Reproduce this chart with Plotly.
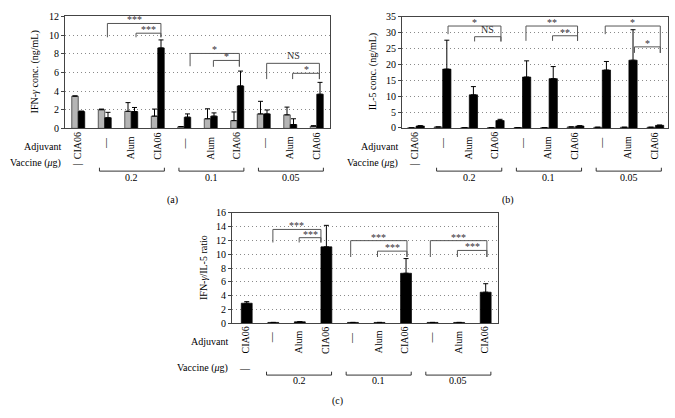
import plotly.graph_objects as go

W, H = 675, 418
FONT = "Liberation Serif, Times New Roman, serif"

# ---------------- data ----------------
categories = ["CIA06", "—", "Alum", "CIA06", "—", "Alum", "CIA06", "—", "Alum", "CIA06"]
dose_labels = ["0.2", "0.1", "0.05"]
dose_groups = [(1, 3), (4, 6), (7, 9)]   # category index ranges per vaccine dose

# (a) IFN-gamma conc. (ng/mL)
ifn_gray = [3.45, 2.0, 1.83, 1.31, 0.17, 1.03, 0.83, 1.55, 1.45, 0.24]
ifn_gray_sd = [0.03, 0.07, 0.93, 0.76, 0.03, 1.07, 0.93, 1.35, 0.83, 0.04]
ifn_black = [1.8, 1.14, 1.8, 8.62, 1.2, 1.31, 4.55, 1.55, 0.41, 3.66]
ifn_black_sd = [0.06, 0.58, 0.44, 0.86, 0.35, 0.35, 1.59, 0.42, 0.62, 1.27]

# (b) IL-5 conc. (ng/mL)
il5_gray = [0.0, 0.3, 0.05, 0.05, 0.1, 0.05, 0.3, 0.2, 0.2, 0.2]
il5_gray_sd = [0, 0, 0, 0, 0, 0, 0, 0, 0, 0]
il5_black = [0.6, 18.5, 10.4, 2.3, 16.0, 15.5, 0.6, 18.2, 21.3, 0.8]
il5_black_sd = [0.1, 9.1, 2.6, 0.4, 5.1, 3.8, 0.1, 2.7, 9.6, 0.1]

# (c) IFN-gamma / IL-5 ratio
ratio = [2.89, 0.1, 0.19, 11.07, 0.1, 0.1, 7.24, 0.1, 0.1, 4.49]
ratio_sd = [0.23, 0.0, 0.02, 3.12, 0.0, 0.0, 2.13, 0.0, 0.0, 1.23]

# significance brackets: (x_left, x_right, y_top, y_left_end, y_right_end, label)
sig_a = [(1.1, 3.12, 11.24, 9.76, 9.76, "***"), (2.18, 3.12, 10.2, 9.76, 9.76, "***"),
         (4.22, 6.08, 8.03, 6.66, 6.66, "*"), (5.1, 6.08, 7.28, 6.6, 6.6, "*"),
         (7.11, 9.1, 6.97, 5.28, 5.28, "NS"), (8.09, 9.1, 5.9, 5.28, 5.28, "*")]
sig_b = [(1.23, 3.22, 32.06, 29.5, 27.2, "*"), (2.23, 3.22, 28.7, 27.2, 27.2, "NS"),
         (4.16, 6.1, 32.06, 27.4, 27.4, "**"), (5.16, 6.1, 29.0, 27.4, 27.4, "**"),
         (7.14, 9.21, 32.06, 29.5, 23.6, "*"), (8.24, 9.21, 25.5, 23.6, 23.6, "*")]
sig_c = [(1.04, 2.85, 13.6, 11.7, 11.7, "***"), (2.03, 2.85, 12.4, 11.7, 11.7, "***"),
         (3.97, 6.09, 11.97, 9.6, 9.6, "***"), (4.98, 6.09, 10.45, 9.6, 9.6, "***"),
         (6.97, 9.1, 11.97, 9.6, 9.6, "***"), (7.99, 9.1, 10.55, 9.6, 9.6, "***")]

xs = list(range(len(categories)))


def fx(p):
    return p / W


def fy(p):
    return 1 - p / H


panels = [
    dict(xa="x", ya="y", xd=(65, 330), yd=(10.7, 126), yr=12, dt=2,
         title="IFN-<i>γ</i> conc. (ng/mL)", tx=35, cap="(a)", capx=172, capy=200,
         adj_y=145, cat_bot=160, dash_top=133, vac_y=162, br_y=170, dose_y=177, sig=sig_a),
    dict(xa="x2", ya="y2", xd=(402, 668), yd=(11, 125.5), yr=35, dt=5,
         title="IL-5 conc. (ng/mL)", tx=373, cap="(b)", capx=508, capy=200,
         adj_y=145, cat_bot=160, dash_top=133, vac_y=162, br_y=170, dose_y=177, sig=sig_b),
    dict(xa="x3", ya="y3", xd=(232, 497.5), yd=(213, 326.5), yr=16, dt=2,
         title="IFN-<i>γ</i>/IL-5 ratio", tx=203, cap="(c)", capx=337, capy=407,
         adj_y=345, cat_bot=360, dash_top=333, vac_y=373, br_y=380, dose_y=386, sig=sig_c),
]

fig = go.Figure()

GRAY = "#b5b5b5"
err = lambda sd: dict(type="data", array=sd, arrayminus=[0] * len(sd), symmetric=False,
                      color="black", thickness=1, width=2.5)

# (a)
fig.add_trace(go.Bar(x=xs, y=ifn_gray, width=0.245, offset=-0.245, xaxis="x", yaxis="y",
                     marker=dict(color=GRAY, line=dict(color="#222", width=0.7)),
                     error_y=err(ifn_gray_sd)))
fig.add_trace(go.Bar(x=xs, y=ifn_black, width=0.245, offset=0.0, xaxis="x", yaxis="y",
                     marker=dict(color="black", line=dict(color="black", width=0.7)),
                     error_y=err(ifn_black_sd)))
# (b)
fig.add_trace(go.Bar(x=xs, y=il5_gray, width=0.3, offset=-0.29, xaxis="x2", yaxis="y2",
                     marker=dict(color=GRAY, line=dict(color="#222", width=0.7)),
                     error_y=err(il5_gray_sd)))
fig.add_trace(go.Bar(x=xs, y=il5_black, width=0.31, offset=0.03, xaxis="x2", yaxis="y2",
                     marker=dict(color="black", line=dict(color="black", width=0.7)),
                     error_y=err(il5_black_sd)))
# (c)
fig.add_trace(go.Bar(x=xs, y=ratio, width=0.41, offset=-0.15, xaxis="x3", yaxis="y3",
                     marker=dict(color="black", line=dict(color="black", width=0.7)),
                     error_y=err(ratio_sd)))

shapes = []
annotations = []
layout_axes = {}
LINE = "#555"
for i, p in enumerate(panels):
    n = "" if i == 0 else str(i + 1)
    layout_axes["xaxis" + n] = dict(
        domain=[fx(p["xd"][0]), fx(p["xd"][1])], range=[-0.5, 9.5], anchor=p["ya"],
        showline=True, mirror=True, linecolor="#444", linewidth=1, showgrid=False,
        zeroline=False, showticklabels=False, ticks="", fixedrange=True)
    layout_axes["yaxis" + n] = dict(
        domain=[fy(p["yd"][1]), fy(p["yd"][0])], range=[0, p["yr"]], dtick=p["dt"],
        anchor=p["xa"], showline=True, mirror=True, linecolor="#444", linewidth=1,
        ticks="outside", ticklen=3, tickcolor="#444", showgrid=True, gridcolor="#8a8a8a",
        griddash="1px,3px", gridwidth=1, zeroline=False,
        tickfont=dict(family=FONT, size=10, color="black"))
    # y title
    annotations.append(dict(text=p["title"], x=fx(p["tx"]), y=fy((p["yd"][0] + p["yd"][1]) / 2),
                            xref="paper", yref="paper", showarrow=False, textangle=-90,
                            xanchor="center", yanchor="middle",
                            font=dict(family=FONT, size=10, color="black")))
    # row labels
    annotations.append(dict(text="Adjuvant", x=fx(p["xd"][0] - 2), y=fy(p["adj_y"]),
                            xref="paper", yref="paper", showarrow=False, xanchor="right",
                            yanchor="middle", font=dict(family=FONT, size=10, color="black")))
    annotations.append(dict(text="Vaccine (<i>μ</i>g)", x=fx(p["xd"][0] - 2), y=fy(p["vac_y"]),
                            xref="paper", yref="paper", showarrow=False, xanchor="right",
                            yanchor="middle", font=dict(family=FONT, size=10, color="black")))
    # category labels
    for k, c in enumerate(categories):
        if c == "—":
            annotations.append(dict(text=c, x=k, y=fy(p["dash_top"]), xref=p["xa"], yref="paper",
                                    showarrow=False, textangle=-90, xanchor="center", yanchor="top",
                                    font=dict(family=FONT, size=10, color="black")))
        else:
            annotations.append(dict(text=c, x=k, y=fy(p["cat_bot"]), xref=p["xa"], yref="paper",
                                    showarrow=False, textangle=-90, xanchor="center", yanchor="bottom",
                                    font=dict(family=FONT, size=10, color="black")))
    # vaccine row
    annotations.append(dict(text="—", x=0, y=fy(p["vac_y"]), xref=p["xa"], yref="paper",
                            showarrow=False, xanchor="center", yanchor="middle",
                            font=dict(family=FONT, size=10, color="black")))
    for (a, b), lab in zip(dose_groups, dose_labels):
        x0, x1 = a - 0.2, b + 0.25
        yb, yt = fy(p["br_y"]), fy(p["br_y"] - 3.5)
        shapes.append(dict(type="path", xref=p["xa"], yref="paper",
                           path=f"M {x0},{yt} L {x0},{yb} L {x1},{yb} L {x1},{yt}",
                           line=dict(color="#333", width=1)))
        annotations.append(dict(text=lab, x=(x0 + x1) / 2, y=fy(p["dose_y"]), xref=p["xa"],
                                yref="paper", showarrow=False, xanchor="center", yanchor="middle",
                                font=dict(family=FONT, size=10, color="black")))
    # caption
    annotations.append(dict(text=p["cap"], x=fx(p["capx"]), y=fy(p["capy"]), xref="paper",
                            yref="paper", showarrow=False, xanchor="center", yanchor="middle",
                            font=dict(family=FONT, size=10, color="black")))
    # significance brackets
    for (x0, x1, yt, yl, yr_, lab) in p["sig"]:
        shapes.append(dict(type="path", xref=p["xa"], yref=p["ya"],
                           path=f"M {x0},{yl} L {x0},{yt} L {x1},{yt} L {x1},{yr_}",
                           line=dict(color=LINE, width=1)))
        is_ns = lab == "NS"
        annotations.append(dict(text=lab, x=(x0 + x1) / 2, y=yt, xref=p["xa"], yref=p["ya"],
                                showarrow=False, xanchor="center", yanchor="bottom",
                                yshift=0 if is_ns else -4,
                                font=dict(family=FONT, size=10, color="#333")))

fig.update_layout(
    width=W, height=H, margin=dict(l=0, r=0, t=0, b=0),
    paper_bgcolor="white", plot_bgcolor="white", showlegend=False,
    barmode="overlay", shapes=shapes, annotations=annotations, **layout_axes)

POST = (
    "var d=document.documentElement,b=document.body;"
    "d.style.margin='0';d.style.padding='0';d.style.overflow='hidden';d.style.height='418px';"
    "b.style.margin='0';b.style.padding='0';b.style.overflow='hidden';b.style.height='418px';"
    "var gd=document.getElementById('{plot_id}');gd.style.display='block';"
    "var w=gd.parentElement;w.style.height='418px';w.style.overflow='hidden';w.style.lineHeight='0';"
)
fig.write_html("out.html", config={"displayModeBar": False}, post_script=POST)
